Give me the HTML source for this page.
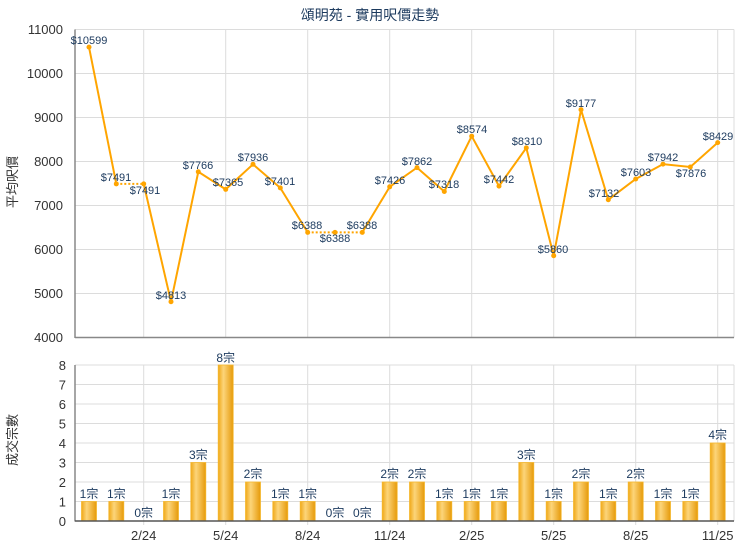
<!DOCTYPE html>
<html><head><meta charset="utf-8"><style>
body{margin:0;background:#fff;}
svg{display:block;font-family:"Liberation Sans","Noto Sans CJK TC",sans-serif;}
.tk{font-size:13px;fill:#333;}
.lb{font-size:11px;fill:#1c3a5e;}
.bl{font-size:12px;fill:#1c3a5e;text-anchor:middle;}
.g{stroke:#dcdcdc;stroke-width:1;}
</style></head><body>
<svg width="740" height="550" viewBox="0 0 740 550">
<defs>
<linearGradient id="bg" x1="0" x2="1" y1="0" y2="0">
<stop offset="0" stop-color="#f0a818"/><stop offset="0.35" stop-color="#fcd57a"/><stop offset="1" stop-color="#e69a0a"/>
</linearGradient>
</defs>
<text x="370" y="20" text-anchor="middle" style="font-size:14px;fill:#1c3a5e">頌明苑 - 實用呎價走勢</text>
<!-- top grid -->
<g class="g">
<line x1="75" x2="734" y1="29.5" y2="29.5"/><line x1="75" x2="734" y1="73.5" y2="73.5"/><line x1="75" x2="734" y1="117.5" y2="117.5"/><line x1="75" x2="734" y1="161.5" y2="161.5"/><line x1="75" x2="734" y1="205.5" y2="205.5"/><line x1="75" x2="734" y1="249.5" y2="249.5"/><line x1="75" x2="734" y1="293.5" y2="293.5"/>
<line x1="734" x2="734" y1="29.5" y2="337.5"/>
<line x1="143.7" x2="143.7" y1="29.5" y2="337.5"/><line x1="225.7" x2="225.7" y1="29.5" y2="337.5"/><line x1="307.7" x2="307.7" y1="29.5" y2="337.5"/><line x1="389.7" x2="389.7" y1="29.5" y2="337.5"/><line x1="471.7" x2="471.7" y1="29.5" y2="337.5"/><line x1="553.7" x2="553.7" y1="29.5" y2="337.5"/><line x1="635.7" x2="635.7" y1="29.5" y2="337.5"/><line x1="717.7" x2="717.7" y1="29.5" y2="337.5"/>
</g>
<line x1="75" x2="75" y1="29.5" y2="338" stroke="#888" stroke-width="1.5"/>
<line x1="75" x2="734" y1="337.5" y2="337.5" stroke="#888" stroke-width="1.5"/>
<g class="tk" text-anchor="end">
<text x="63" y="34">11000</text><text x="63" y="78">10000</text><text x="63" y="122">9000</text><text x="63" y="166">8000</text><text x="63" y="210">7000</text><text x="63" y="254">6000</text><text x="63" y="298">5000</text><text x="63" y="342">4000</text>
</g>
<text transform="translate(17,182) rotate(-90)" text-anchor="middle" style="font-size:13px;fill:#333">平均呎價</text>
<!-- line -->
<g fill="none" stroke="#ffa500" stroke-width="2">
<polyline points="89,47.1 116.3,183.9"/>
<polyline points="116.3,183.9 143.7,183.9" stroke-dasharray="2,2"/>
<polyline points="143.7,183.9 171,301.7 198.3,171.8 225.7,189.4 253,164.3 280.3,187.9 307.7,232.4"/>
<polyline points="307.7,232.4 335,232.4 362.3,232.4" stroke-dasharray="2,2"/>
<polyline points="362.3,232.4 389.7,186.8 417,167.6 444.3,191.5 471.7,136.2 499,186.1 526.3,147.9 553.7,255.7 581,109.7 608.3,199.7 635.7,179 663,164.1 690.3,167 717.7,142.6"/>
</g>
<g fill="#ffa500">
<circle cx="89" cy="47.1" r="2.5"/><circle cx="116.3" cy="183.9" r="2.5"/><circle cx="143.7" cy="183.9" r="2.5"/><circle cx="171" cy="301.7" r="2.5"/><circle cx="198.3" cy="171.8" r="2.5"/><circle cx="225.7" cy="189.4" r="2.5"/><circle cx="253" cy="164.3" r="2.5"/><circle cx="280.3" cy="187.9" r="2.5"/><circle cx="307.7" cy="232.4" r="2.5"/><circle cx="335" cy="232.4" r="2.5"/><circle cx="362.3" cy="232.4" r="2.5"/><circle cx="389.7" cy="186.8" r="2.5"/><circle cx="417" cy="167.6" r="2.5"/><circle cx="444.3" cy="191.5" r="2.5"/><circle cx="471.7" cy="136.2" r="2.5"/><circle cx="499" cy="186.1" r="2.5"/><circle cx="526.3" cy="147.9" r="2.5"/><circle cx="553.7" cy="255.7" r="2.5"/><circle cx="581" cy="109.7" r="2.5"/><circle cx="608.3" cy="199.7" r="2.5"/><circle cx="635.7" cy="179" r="2.5"/><circle cx="663" cy="164.1" r="2.5"/><circle cx="690.3" cy="167" r="2.5"/><circle cx="717.7" cy="142.6" r="2.5"/>
</g>
<g class="lb" text-anchor="middle">
<text x="89" y="44">$10599</text><text x="116" y="181">$7491</text><text x="145" y="194">$7491</text><text x="171" y="299">$4813</text><text x="198" y="169">$7766</text><text x="228" y="186">$7365</text><text x="253" y="161">$7936</text><text x="280" y="185">$7401</text><text x="307" y="229">$6388</text><text x="335" y="242">$6388</text><text x="362" y="229">$6388</text><text x="390" y="184">$7426</text><text x="417" y="165">$7862</text><text x="444" y="188">$7318</text><text x="472" y="133">$8574</text><text x="499" y="183">$7442</text><text x="527" y="145">$8310</text><text x="553" y="253">$5860</text><text x="581" y="107">$9177</text><text x="604" y="197">$7132</text><text x="636" y="176">$7603</text><text x="663" y="161">$7942</text><text x="691" y="177">$7876</text><text x="718" y="140">$8429</text>
</g>
<!-- bottom grid -->
<g class="g">
<line x1="75" x2="734" y1="365" y2="365"/><line x1="75" x2="734" y1="384.5" y2="384.5"/><line x1="75" x2="734" y1="404" y2="404"/><line x1="75" x2="734" y1="423.5" y2="423.5"/><line x1="75" x2="734" y1="443" y2="443"/><line x1="75" x2="734" y1="462.5" y2="462.5"/><line x1="75" x2="734" y1="482" y2="482"/><line x1="75" x2="734" y1="501.5" y2="501.5"/>
<line x1="734" x2="734" y1="365" y2="521"/>
<line x1="143.7" x2="143.7" y1="365" y2="525"/><line x1="225.7" x2="225.7" y1="365" y2="525"/><line x1="307.7" x2="307.7" y1="365" y2="525"/><line x1="389.7" x2="389.7" y1="365" y2="525"/><line x1="471.7" x2="471.7" y1="365" y2="525"/><line x1="553.7" x2="553.7" y1="365" y2="525"/><line x1="635.7" x2="635.7" y1="365" y2="525"/><line x1="717.7" x2="717.7" y1="365" y2="525"/>
</g>
<g class="tk" text-anchor="end">
<text x="66" y="370">8</text><text x="66" y="389.5">7</text><text x="66" y="409">6</text><text x="66" y="428.5">5</text><text x="66" y="448">4</text><text x="66" y="467.5">3</text><text x="66" y="487">2</text><text x="66" y="506.5">1</text><text x="66" y="526">0</text>
</g>
<text transform="translate(17,440) rotate(-90)" text-anchor="middle" style="font-size:13px;fill:#333">成交宗數</text>
<g fill="url(#bg)" stroke="#f5b830" stroke-width="0.8">
<rect x="81.5" y="501.5" width="15" height="19.5"/><rect x="108.8" y="501.5" width="15" height="19.5"/><rect x="163.5" y="501.5" width="15" height="19.5"/><rect x="190.8" y="462.5" width="15" height="58.5"/><rect x="218.2" y="365" width="15" height="156"/><rect x="245.5" y="482" width="15" height="39"/><rect x="272.8" y="501.5" width="15" height="19.5"/><rect x="300.2" y="501.5" width="15" height="19.5"/><rect x="382.2" y="482" width="15" height="39"/><rect x="409.5" y="482" width="15" height="39"/><rect x="436.8" y="501.5" width="15" height="19.5"/><rect x="464.2" y="501.5" width="15" height="19.5"/><rect x="491.5" y="501.5" width="15" height="19.5"/><rect x="518.8" y="462.5" width="15" height="58.5"/><rect x="546.2" y="501.5" width="15" height="19.5"/><rect x="573.5" y="482" width="15" height="39"/><rect x="600.8" y="501.5" width="15" height="19.5"/><rect x="628.2" y="482" width="15" height="39"/><rect x="655.5" y="501.5" width="15" height="19.5"/><rect x="682.8" y="501.5" width="15" height="19.5"/><rect x="710.2" y="443" width="15" height="78"/>
</g>
<line x1="75" x2="75" y1="365" y2="521.5" stroke="#888" stroke-width="1.5"/>
<line x1="75" x2="734" y1="521" y2="521" stroke="#555" stroke-width="1.5"/>
<g class="bl">
<text x="89" y="498">1宗</text><text x="116.3" y="498">1宗</text><text x="143.7" y="517">0宗</text><text x="171" y="498">1宗</text><text x="198.3" y="459">3宗</text><text x="225.7" y="362">8宗</text><text x="253" y="478">2宗</text><text x="280.3" y="498">1宗</text><text x="307.7" y="498">1宗</text><text x="335" y="517">0宗</text><text x="362.3" y="517">0宗</text><text x="389.7" y="478">2宗</text><text x="417" y="478">2宗</text><text x="444.3" y="498">1宗</text><text x="471.7" y="498">1宗</text><text x="499" y="498">1宗</text><text x="526.3" y="459">3宗</text><text x="553.7" y="498">1宗</text><text x="581" y="478">2宗</text><text x="608.3" y="498">1宗</text><text x="635.7" y="478">2宗</text><text x="663" y="498">1宗</text><text x="690.3" y="498">1宗</text><text x="717.7" y="439">4宗</text>
</g>
<g class="tk" text-anchor="middle">
<text x="143.7" y="540">2/24</text><text x="225.7" y="540">5/24</text><text x="307.7" y="540">8/24</text><text x="389.7" y="540">11/24</text><text x="471.7" y="540">2/25</text><text x="553.7" y="540">5/25</text><text x="635.7" y="540">8/25</text><text x="717.7" y="540">11/25</text>
</g>
</svg>
</body></html>
